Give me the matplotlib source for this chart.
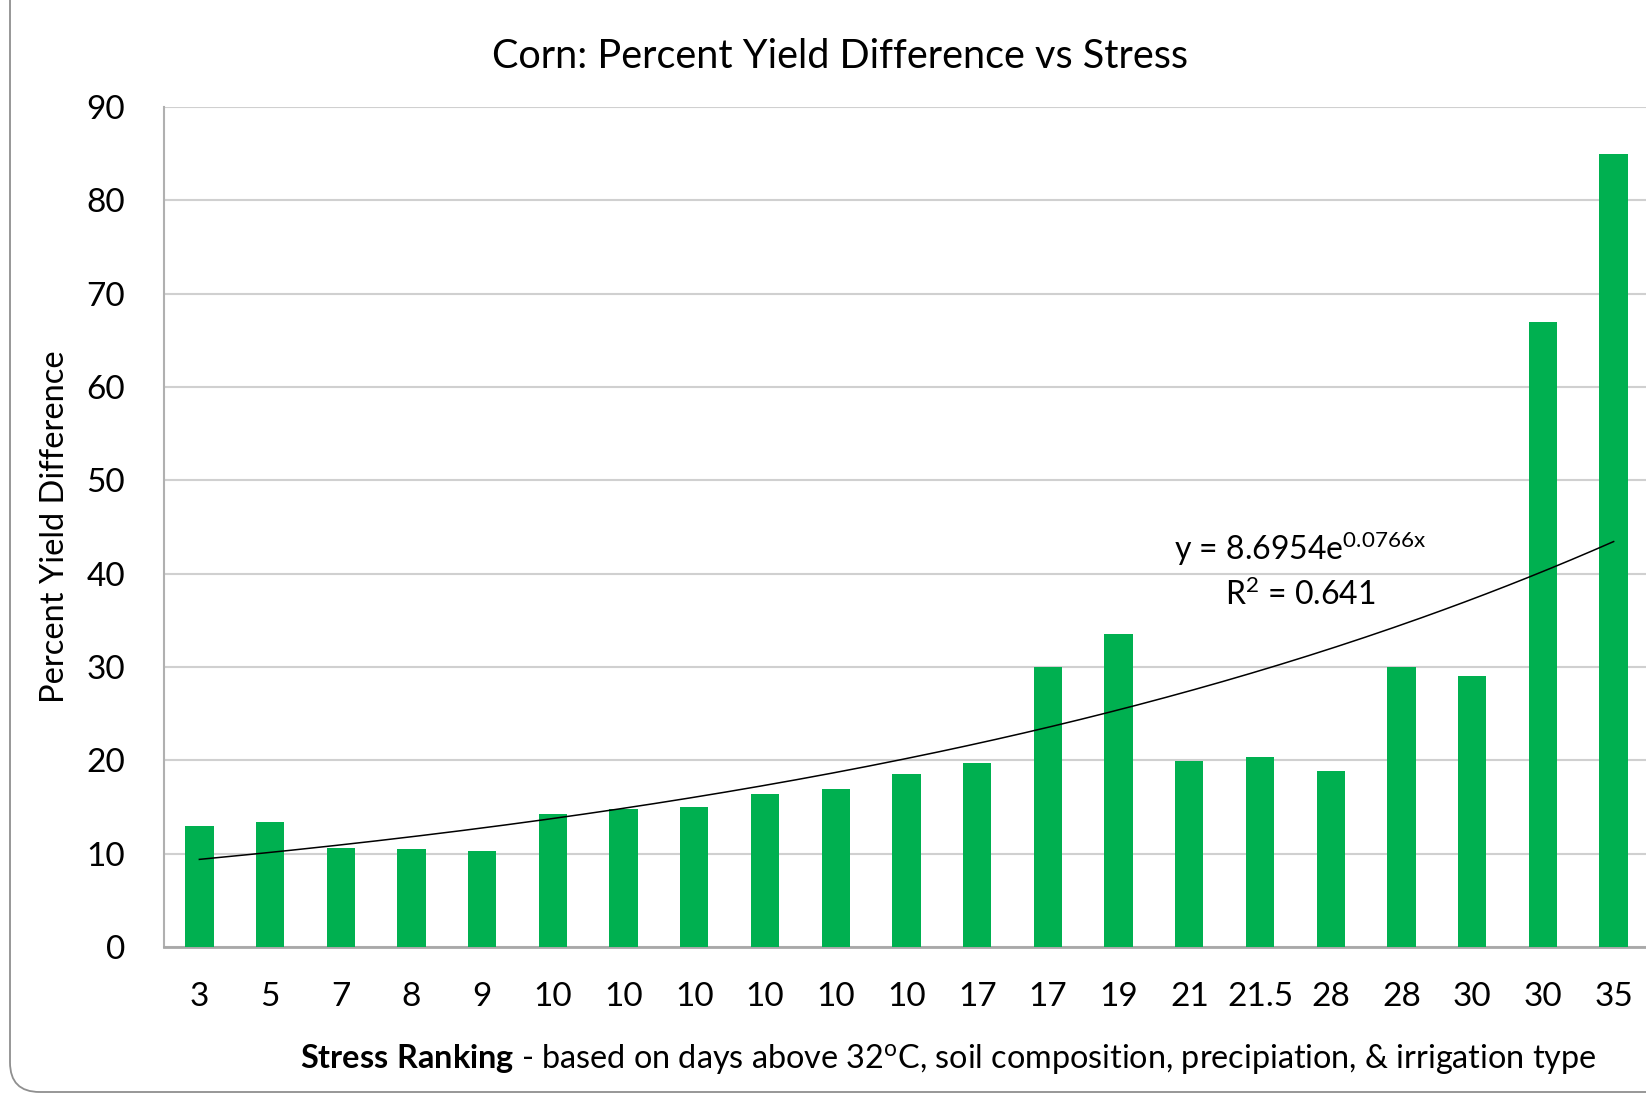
import matplotlib.pyplot as plt
import numpy as np
from matplotlib.patches import FancyBboxPatch

stress = ['3', '5', '7', '8', '9', '10', '10', '10', '10', '10', '10',
          '17', '17', '19', '21', '21.5', '28', '28', '30', '30', '35']
pct_diff = [13.0, 13.4, 10.6, 10.5, 10.3, 14.2, 14.8, 15.0, 16.4, 16.9, 18.5,
            19.7, 30.0, 33.5, 19.9, 20.4, 18.9, 30.0, 29.0, 67.0, 85.0]
# exponential trendline as printed on the chart
fit_a = 8.6954
fit_b = 0.0766
fit_r2 = 0.641

plt.rcParams['font.family'] = ['Lato', 'DejaVu Sans']
plt.rcParams['mathtext.fontset'] = 'custom'
plt.rcParams['mathtext.rm'] = 'Lato'
plt.rcParams['mathtext.it'] = 'Lato'
plt.rcParams['mathtext.bf'] = 'Lato:bold'
green = '#00B050'

fig = plt.figure(figsize=(16.46, 10.96), dpi=100)

# rounded chart frame (cut off at right/bottom like the screenshot)
frame = FancyBboxPatch((10 / 1646, 4 / 1096), 1.2, 1.2,
                       boxstyle='round,pad=0,rounding_size=0.018',
                       transform=fig.transFigure, fill=False,
                       edgecolor='#8f8f8f', linewidth=1.3,
                       mutation_aspect=1646 / 1096)
fig.patches.append(frame)

ax = fig.add_axes([164 / 1646, 1 - 947 / 1096, 1485 / 1646, 840 / 1096])

x = np.arange(1, len(pct_diff) + 1)
ax.bar(x, pct_diff, width=0.4, color=green, zorder=3)

xs = np.linspace(1, len(pct_diff), 200)
ax.plot(xs, fit_a * np.exp(fit_b * xs), color='black', linewidth=1.1, zorder=4)

ax.set_xlim(0.5, len(pct_diff) + 0.5)
ax.set_ylim(0, 90)
ax.set_yticks(range(0, 91, 10))
ax.set_xticks(x)
ax.set_xticklabels(stress)
ax.tick_params(axis='both', length=0, labelsize=24, colors='black')
ax.tick_params(axis='x', pad=25)
ax.tick_params(axis='y', pad=28)
ax.grid(axis='y', color='#d0d0d0', linewidth=1.5, zorder=0)
for s in ['top', 'right']:
    ax.spines[s].set_visible(False)
ax.spines['left'].set_color('#b0b0b0')
ax.spines['left'].set_linewidth(1.5)
ax.spines['bottom'].set_color('#a8a8a8')
ax.spines['bottom'].set_linewidth(2)

ax.set_ylabel('Percent Yield Difference', fontsize=23.5, labelpad=12)

fig.text(840 / 1646, 1 - 56 / 1096, 'Corn: Percent Yield Difference vs Stress',
         fontsize=28.5, ha='center', va='center')

fig.text(300 / 1646, 1 - 1059 / 1096,
         r'$\mathbf{Stress\ Ranking}$' + ' - based on days above 32$^{\\rm o}$C, soil composition, precipiation, & irrigation type',
         fontsize=23.3, ha='left', va='center')

ax.text(0.765, 0.474, 'y = %.4fe$^{\\rm %.4fx}$' % (fit_a, fit_b),
        transform=ax.transAxes, fontsize=23, ha='center', va='center')
ax.text(0.765, 0.419, 'R$^{\\rm 2}$ = %.3f' % fit_r2,
        transform=ax.transAxes, fontsize=23, ha='center', va='center')

plt.savefig('out.png', dpi=100)
